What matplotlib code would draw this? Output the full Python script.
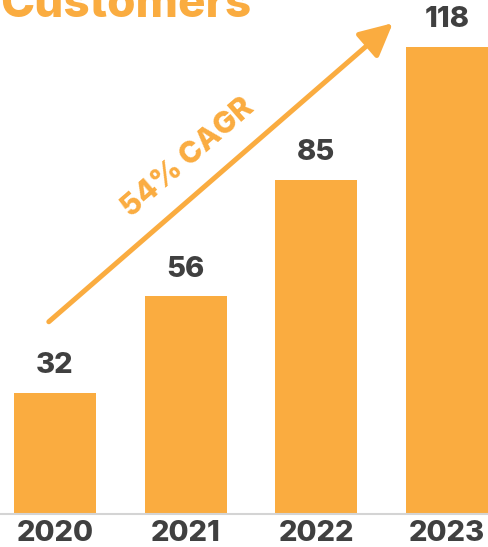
import matplotlib.pyplot as plt
from matplotlib.patches import FancyArrowPatch

years = ['2020', '2021', '2022', '2023']
customers = [32, 56, 85, 118]
cagr_label = '54% CAGR'
title = 'Customers'

orange = '#FAAC40'
ink = '#404040'

plt.rcParams['font.family'] = ['Inter', 'DejaVu Sans']

fig = plt.figure(figsize=(4.88, 5.47), dpi=100)
ax = fig.add_axes([0, 33 / 547, 1, 514 / 547])

x = range(len(years))
bars = ax.bar(x, customers, width=0.627, color=orange, zorder=2)
for b, v in zip(bars, customers):
    ax.annotate(f'{v}', xy=(b.get_x() + b.get_width() / 2, b.get_height()),
                xytext=(0, 10), textcoords='offset points', ha='center',
                va='bottom', fontsize=21, fontweight=800, color=ink)

ax.set_xlim(-0.421, 3.313)
ax.set_ylim(1.93, 129.7)
ax.set_xticks(list(x))
ax.set_xticklabels(years, fontsize=21, fontweight=800, color=ink)
ax.tick_params(axis='x', length=0, pad=4)
ax.set_yticks([])
for s in ['top', 'right', 'left']:
    ax.spines[s].set_visible(False)
ax.spines['bottom'].set_color('#D4D4D4')
ax.spines['bottom'].set_linewidth(1.5)
ax.spines['bottom'].set_zorder(3)

# growth arrow + label
arrow = FancyArrowPatch((0.100, 0.374), (0.805, 0.955), transform=ax.transAxes,
                        arrowstyle='-|>,head_length=20,head_width=10',
                        mutation_scale=1, color=orange, lw=3.6,
                        shrinkA=0, shrinkB=0, zorder=4)
ax.add_patch(arrow)
ax.text(0.385, 0.693, cagr_label, transform=ax.transAxes, rotation=41,
        rotation_mode='anchor', ha='center', va='center', fontsize=21.5,
        fontweight=800, color=orange)

fig.text(0.0, 1 - 17 / 547, title, ha='left', va='baseline', fontsize=33,
         fontweight=800, color=orange)

fig.savefig('out.png', dpi=100)
